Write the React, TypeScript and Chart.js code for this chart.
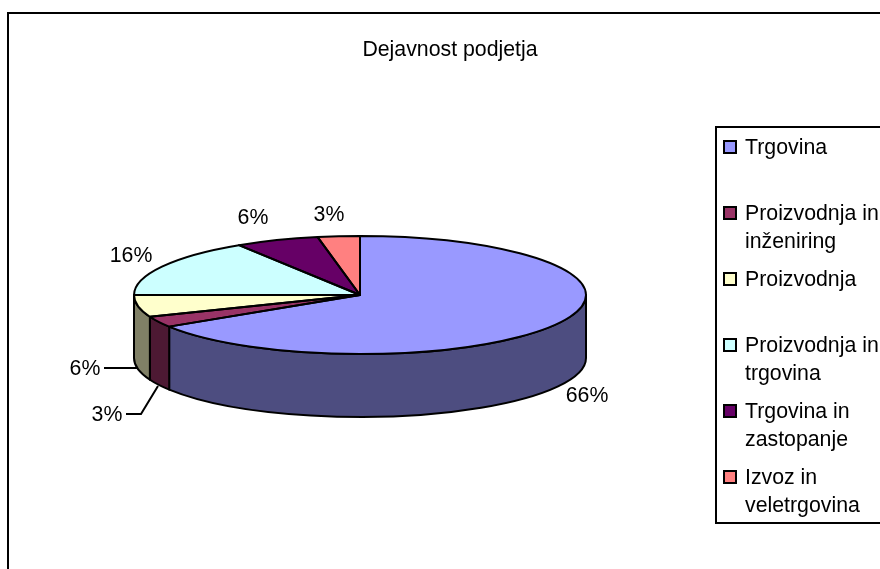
import React, { useEffect, useRef } from "react";
import { Chart, registerables } from "chart.js";

Chart.register(...registerables);

const title = "Dejavnost podjetja";
const categories = [
  "Trgovina",
  "Proizvodnja in inženiring",
  "Proizvodnja",
  "Proizvodnja in trgovina",
  "Trgovina in zastopanje",
  "Izvoz in veletrgovina",
];
const shares = [66, 3, 6, 16, 6, 3];
const topColors = ["#9999FF", "#993366", "#FFFFCC", "#CCFFFF", "#660066", "#FF8080"];
const wallColors = ["#4D4D80", "#4D1933", "#808066", "#668080", "#330033", "#804040"];

// Layout of the label text (centre x, centre y), in canvas pixels, by slice
const labelPlaces: [number, number][] = [
  [587, 396],
  [107, 415],
  [85, 369],
  [131, 256],
  [253, 218],
  [329, 215],
];
const leaders: [number, number][][] = [
  [[126, 414], [141, 414], [158, 386]],
  [[104, 368], [138, 368]],
];

const FONT = '21.3px "Liberation Sans", Arial, sans-serif';
const Y_SCALE = 59 / 226;
const DEPTH = 63;

const legendBox = { x: 716, y: 127, w: 220, h: 396 };
const legendRowTop = 148;
const legendRowStep = 66;
const legendLineStep = 28;

const pie3d = {
  id: "pie3d",
  beforeDatasetsDraw(chart: any) {
    const { ctx } = chart;
    const arcs = chart.getDatasetMeta(0).data;
    // frame
    ctx.save();
    ctx.strokeStyle = "#000";
    ctx.lineWidth = 2;
    ctx.strokeRect(8, 13, 900, 600);
    ctx.restore();
    // walls of the near half of the disc
    arcs.forEach((arc: any, i: number) => {
      const a1 = Math.max(arc.startAngle, 0);
      const a2 = Math.min(arc.endAngle, Math.PI);
      if (a2 <= a1) return;
      const rx = arc.outerRadius;
      const ry = rx * Y_SCALE;
      ctx.save();
      ctx.beginPath();
      ctx.ellipse(arc.x, arc.y, rx, ry, 0, a1, a2);
      ctx.ellipse(arc.x, arc.y + DEPTH, rx, ry, 0, a2, a1, true);
      ctx.closePath();
      ctx.fillStyle = wallColors[i];
      ctx.fill();
      ctx.strokeStyle = "#000";
      ctx.lineWidth = 2;
      ctx.lineJoin = "round";
      ctx.stroke();
      ctx.restore();
    });
  },
  beforeDatasetDraw(chart: any) {
    const { ctx } = chart;
    const first = chart.getDatasetMeta(0).data[0];
    ctx.save();
    ctx.translate(first.x, first.y);
    ctx.scale(1, Y_SCALE);
    ctx.translate(-first.x, -first.y);
  },
  afterDatasetDraw(chart: any) {
    chart.ctx.restore();
  },
  afterDatasetsDraw(chart: any) {
    const { ctx } = chart;
    const arcs = chart.getDatasetMeta(0).data;
    // outlines of the top face, with an even pen width
    arcs.forEach((arc: any) => {
      const rx = arc.outerRadius;
      ctx.save();
      ctx.beginPath();
      ctx.moveTo(arc.x, arc.y);
      ctx.ellipse(arc.x, arc.y, rx, rx * Y_SCALE, 0, arc.startAngle, arc.endAngle);
      ctx.closePath();
      ctx.strokeStyle = "#000";
      ctx.lineWidth = 2;
      ctx.lineJoin = "round";
      ctx.stroke();
      ctx.restore();
    });

    ctx.save();
    ctx.font = FONT;
    ctx.fillStyle = "#000";
    ctx.textBaseline = "middle";
    ctx.textAlign = "center";
    ctx.fillText(title, 450, 50);

    // value labels
    const values: number[] = chart.data.datasets[0].data;
    values.forEach((v, i) => {
      ctx.fillText(`${v}%`, labelPlaces[i][0], labelPlaces[i][1]);
    });
    ctx.strokeStyle = "#000";
    ctx.lineWidth = 2;
    leaders.forEach((line) => {
      ctx.beginPath();
      line.forEach(([x, y], k) => (k ? ctx.lineTo(x, y) : ctx.moveTo(x, y)));
      ctx.stroke();
    });

    // legend
    ctx.lineWidth = 2;
    ctx.fillStyle = "#fff";
    ctx.fillRect(legendBox.x, legendBox.y, legendBox.w, legendBox.h);
    ctx.strokeRect(legendBox.x, legendBox.y, legendBox.w, legendBox.h);
    ctx.textAlign = "left";
    (chart.data.labels as string[]).forEach((name, i) => {
      const y = legendRowTop + i * legendRowStep;
      ctx.fillStyle = topColors[i];
      ctx.fillRect(724, y - 7, 12, 12);
      ctx.strokeRect(724, y - 7, 12, 12);
      ctx.fillStyle = "#000";
      const lines: string[] = [];
      let cur = "";
      name.split(" ").forEach((w) => {
        const t = cur ? `${cur} ${w}` : w;
        if (ctx.measureText(t).width > 140 && cur) {
          lines.push(cur);
          cur = w;
        } else cur = t;
      });
      lines.push(cur);
      lines.forEach((l, k) => ctx.fillText(l, 745, y + k * legendLineStep));
    });
    ctx.restore();
  },
};

export default function App() {
  const ref = useRef<HTMLCanvasElement>(null);
  useEffect(() => {
    const chart = new Chart(ref.current!, {
      type: "pie",
      data: {
        labels: categories,
        datasets: [
          {
            data: shares,
            backgroundColor: topColors,
            borderWidth: 0,
          },
        ],
      },
      options: {
        animation: false,
        responsive: false,
        devicePixelRatio: 1,
        layout: { padding: { left: 134, right: 294, top: 69, bottom: 48 } },
        plugins: {
          legend: { display: false },
          title: { display: false },
          tooltip: { enabled: false },
        },
      },
      plugins: [pie3d],
    } as any);
    return () => chart.destroy();
  }, []);
  return (
    <div style={{ position: "absolute", left: 0, top: 0, width: 880, height: 569, overflow: "hidden", background: "#fff" }}>
      <canvas ref={ref} width={880} height={569} style={{ display: "block" }} />
    </div>
  );
}
